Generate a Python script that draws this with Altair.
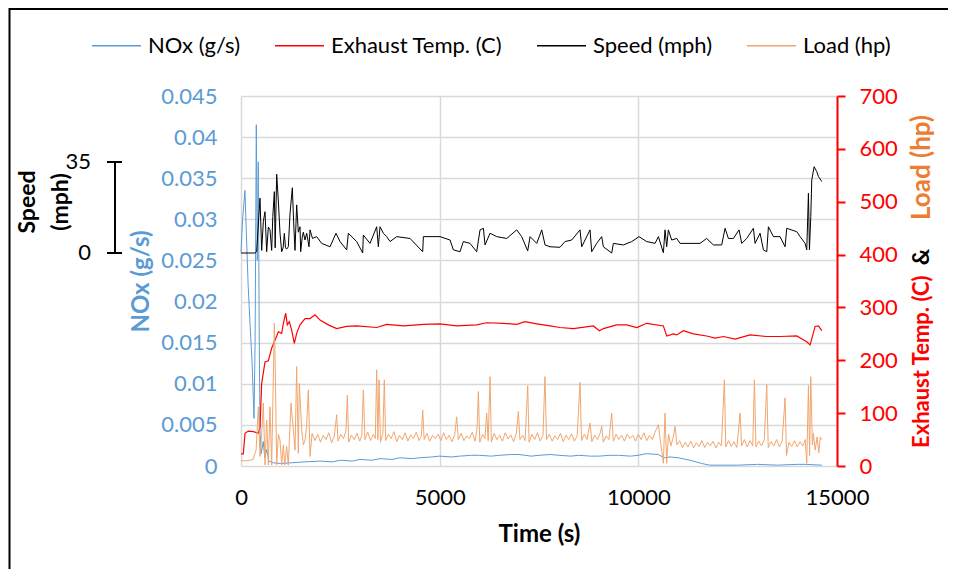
import altair as alt
import pandas as pd

# ---------------- data ----------------
series_names = ["NOx (g/s)", "Exhaust Temp. (C)", "Speed (mph)", "Load (hp)"]

nox_t = [0, 40, 100, 130, 180, 230, 280, 327, 355, 385,
         410, 435, 460, 480, 510, 560, 600, 650, 700, 800,
         1000, 1300, 1600, 2000, 2300, 2500, 2800, 3000, 3300, 3500,
         3800, 4000, 4300, 4500, 4800, 5000, 5300, 5500, 5800, 6000,
         6300, 6500, 6800, 7000, 7300, 7500, 7800, 8000, 8300, 8500,
         8800, 9000, 9300, 9500, 9800, 10000, 10200, 10500, 10650, 10800,
         11000, 11300, 11600, 11800, 12500, 13000, 13500, 14000, 14200, 14617]
nox_v = [0.026, 0.030, 0.0335, 0.029, 0.022, 0.017, 0.0125, 0.0058, 0.015, 0.0415,
         0.025, 0.037, 0.015, 0.004, 0.0015, 0.003, 0.001, 0.002, 0.0006, 0.0004,
         0.0003, 0.0004, 0.0005, 0.0006, 0.0005, 0.0007, 0.0006, 0.0008, 0.0007, 0.0009,
         0.0008, 0.0010, 0.0009, 0.0010, 0.0011, 0.0012, 0.0011, 0.0012, 0.0013, 0.0013,
         0.0012, 0.0013, 0.0014, 0.0014, 0.0012, 0.0013, 0.0014, 0.0013, 0.0012, 0.0013,
         0.0012, 0.0012, 0.0013, 0.0013, 0.0012, 0.0013, 0.0015, 0.0014, 0.0010, 0.0011,
         0.0010, 0.0007, 0.0003, 0.0001, 0.0001, 0.0002, 0.0001, 0.0002, 0.0002, 0.0001]

temp_t = [0, 58, 101, 185, 310, 436, 478, 520, 604, 688,
          772, 856, 940, 1024, 1066, 1125, 1166, 1217, 1275, 1342,
          1401, 1485, 1611, 1737, 1863, 1989, 2198, 2408, 2660, 2911,
          3415, 3667, 4087, 4590, 5009, 5429, 5932, 6184, 6604, 6939,
          7149, 7443, 7778, 8029, 8365, 8868, 9019, 9120, 9456, 9708,
          9960, 10211, 10630, 10714, 10882, 10966, 11133, 11385, 11721, 11931,
          12141, 12435, 12812, 13232, 13567, 13987, 14239, 14323, 14449, 14533,
          14617]
temp_v = [23, 23, 62, 66, 65, 62, 74, 156, 197, 199,
          223, 238, 254, 251, 270, 289, 267, 273, 257, 232,
          251, 267, 279, 279, 286, 276, 267, 260, 264, 265,
          262, 268, 265, 268, 269, 265, 267, 271, 270, 268,
          273, 269, 265, 262, 260, 265, 256, 260, 267, 267,
          262, 270, 265, 246, 250, 248, 256, 250, 246, 242,
          245, 240, 248, 245, 245, 246, 235, 229, 264, 265,
          256]

speed_t = [0, 352, 394, 478, 520, 562, 604, 646, 688, 730,
           772, 800, 839, 860, 898, 940, 982, 1024, 1060, 1091,
           1120, 1149, 1191, 1233, 1292, 1330, 1359, 1401, 1443, 1485,
           1502, 1540, 1569, 1610, 1653, 1712, 1737, 1800, 1905, 2030,
           2240, 2391, 2492, 2660, 2702, 2911, 3063, 3079, 3247, 3415,
           3457, 3499, 3583, 3667, 3751, 3918, 4254, 4573, 4590, 5009,
           5261, 5345, 5512, 5596, 5764, 5932, 6016, 6100, 6142, 6268,
           6436, 6688, 6939, 7065, 7216, 7275, 7443, 7569, 7652, 7777,
           8029, 8155, 8323, 8533, 8575, 8784, 8826, 8952, 9078, 9120,
           9330, 9372, 9624, 9834, 10018, 10211, 10421, 10505, 10630, 10672,
           10714, 10756, 10840, 10966, 11050, 11301, 11553, 11721, 11889, 12099,
           12183, 12267, 12393, 12535, 12602, 12728, 12896, 12938, 13064, 13148,
           13232, 13274, 13400, 13567, 13693, 13735, 13987, 14071, 14197, 14239,
           14281, 14306, 14340, 14365, 14424, 14491, 14533, 14617]
speed_v = [0, 0, 0.5, 21.1, 1, 12.1, 15.9, 0.5, 10, 8.9,
           1, 14, 23.6, 2, 30.3, 20, 7.6, 0.5, 2, 7.6,
           2, 1.5, 2.4, 15, 25.1, 10, 1, 18.5, 8, 10.1,
           0.5, 6, 8.0, 5, 7.6, 2.4, 8.9, 5.6, 6.3, 3.7,
           2.4, 7.6, 4.4, 1.2, 7.6, 4.4, 0, 6.9, 3.7, 10.1,
           2.4, 10.1, 7.6, 6.3, 4.4, 6.3, 5.6, 0.5, 6.3, 6.3,
           5.0, 1.2, 0.5, 4.4, 3.7, 0.5, 8.9, 9.5, 3.1, 7.6,
           6.3, 5.6, 8.9, 6.3, 0.8, 6.3, 3.7, 8.9, 3.1, 2.4,
           2.2, 4.4, 5.0, 8.9, 2.4, 8.9, 0.5, 3.7, 6.3, 2.4,
           0, 3.7, 3.1, 4.4, 6.3, 4.4, 3.7, 6.3, 0.1, 8.9,
           2.4, 8.9, 5.0, 5.6, 3.7, 3.7, 3.7, 5.6, 3.1, 3.1,
           9.5, 5.6, 5.6, 8.9, 3.7, 5.6, 9.5, 3.7, 7.6, 1.2,
           0.5, 10.1, 6.3, 6.3, 2.4, 9.5, 8.2, 6.3, 3.7, 1.2,
           23.0, 1.2, 14.0, 28.1, 33.2, 31.3, 29.4, 27.5]

load_t = [0, 150, 300, 380, 436, 478, 520, 562, 604, 646,
          688, 730, 772, 839, 856, 898, 940, 982, 1024, 1066,
          1100, 1149, 1191, 1258, 1317, 1360, 1401, 1443, 1468, 1527,
          1570, 1611, 1650, 1695, 1737, 1790,
          1860, 1930, 2000, 2070, 2140, 2210, 2280, 2350, 2408, 2440,
          2510, 2580, 2640, 2677, 2710, 2780, 2850, 2920, 2990, 3040,
          3079, 3120, 3190, 3260, 3330, 3380, 3415, 3445, 3474, 3510,
          3570, 3608, 3640, 3710, 3780, 3850, 3920, 3990, 4060, 4130,
          4200, 4270, 4340, 4410, 4480, 4540, 4573, 4610, 4680, 4750,
          4820, 4890, 4960, 5030, 5100, 5170, 5240, 5310, 5380, 5429,
          5470, 5540, 5610, 5680, 5750, 5820, 5890, 5940, 5974, 6010,
          6080, 6140, 6184, 6220, 6268, 6300, 6370, 6440, 6510, 6580,
          6650, 6720, 6790, 6860, 6930, 6981, 7020, 7090, 7150, 7216,
          7250, 7320, 7390, 7460, 7530, 7600, 7650, 7690, 7760, 7830,
          7900, 7970, 8040, 8110, 8180, 8250, 8320, 8390, 8460, 8533,
          8570, 8640, 8710, 8784, 8830, 8900, 8970, 9040, 9078, 9120,
          9190, 9260, 9330, 9370, 9440, 9510, 9580, 9650, 9720, 9790,
          9860, 9930, 10000, 10070, 10140, 10210, 10280, 10350, 10420, 10505,
          10560, 10630, 10672, 10714, 10760, 10820, 10880, 10924, 10970, 11040,
          11110, 11180, 11250, 11320, 11390, 11460, 11530, 11600, 11670, 11740,
          11810, 11880, 11950, 12020, 12090, 12166, 12200, 12270, 12340, 12410,
          12480, 12560, 12600, 12670, 12740, 12810, 12880, 12921, 12960, 13030,
          13100, 13170, 13232, 13270, 13340, 13410, 13480, 13550, 13620, 13693,
          13730, 13790, 13860, 13930, 14000, 14070, 14140, 14200, 14239, 14281,
          14310, 14340, 14380, 14407, 14450, 14500, 14540, 14580, 14617]
load_v = [10, 10, 12, 30, 112, 18, 60, 119, 2, 87,
          2, 112, 2, 270, 213, 2, 60, 49, 2, 40,
          2, 37, 2, 119, 68, 30, 188, 24, 156, 68,
          40, 49, 75, 144, 18, 62,
          48, 60, 45, 58, 50, 63, 44, 57, 97, 47,
          60, 52, 66, 134, 45, 58, 50, 62, 47, 58,
          144, 50, 64, 48, 60, 52, 182, 50, 163, 45,
          62, 163, 48, 60, 52, 65, 46, 58, 50, 63,
          47, 59, 52, 64, 48, 57, 106, 50, 62, 47,
          58, 52, 60, 48, 63, 50, 58, 46, 60, 93,
          50, 62, 48, 57, 52, 64, 47, 70, 141, 45,
          60, 52, 100, 48, 169, 45, 62, 50, 58, 47,
          63, 51, 59, 46, 62, 103, 50, 58, 48, 152,
          45, 60, 50, 63, 47, 58, 169, 50, 60, 47,
          57, 50, 62, 46, 58, 50, 61, 47, 57, 158,
          48, 60, 50, 81, 46, 58, 50, 62, 75, 45,
          57, 50, 100, 47, 60, 50, 58, 47, 60, 52,
          58, 47, 60, 50, 63, 48, 58, 50, 64, 78,
          45, 5, 100, 5, 60, 38, 55, 75, 40, 48,
          35, 45, 36, 47, 34, 44, 37, 48, 35, 45,
          38, 47, 34, 45, 38, 163, 36, 48, 37, 46,
          35, 100, 38, 50, 36, 48, 38, 163, 36, 47,
          38, 50, 154, 35, 46, 38, 50, 36, 47, 129,
          20, 45, 37, 48, 36, 46, 38, 50, 5, 152,
          20, 169, 40, 62, 30, 55, 25, 55, 50]

nox_ticks = [0, 0.005, 0.01, 0.015, 0.02, 0.025, 0.03, 0.035, 0.04, 0.045]
temp_ticks = [0, 100, 200, 300, 400, 500, 600, 700]
time_ticks = [0, 5000, 10000, 15000]
speed_ticks = [0, 35]

# ---------------- style ----------------
FONT = "Lato"
FS = 22          # tick labels / legend
TFS = 24         # axis titles
BLUE = "#5B9BD5"
RED = "#FF0000"
BLACK = "#000000"
ORANGE = "#F2A66F"
ORANGE_TXT = "#ED7D31"
GRID = "#D9D9D9"
series_colors = [BLUE, RED, BLACK, ORANGE]

W, H = 596, 370
PAD = {"left": 233, "top": 88, "right": 111, "bottom": 103}

x_scale = alt.Scale(domain=[0, 15000], nice=False, zero=False)
x_axis = alt.Axis(values=time_ticks, format="d", title="Time (s)", grid=True,
                  gridColor=GRID, gridWidth=1.5, domain=False, ticks=False, tickSize=0,
                  labelFont=FONT, labelFontSize=FS, labelColor=BLACK, labelPadding=21,
                  labelFlush=False, titleFont=FONT, titleFontSize=TFS,
                  titleFontWeight="bold", titleColor=BLACK, titlePadding=14)

speed_scale = alt.Scale(domain=[-81.94, 60.4], nice=False, zero=False)
temp_scale = alt.Scale(domain=[0, 700], nice=False, zero=False)

color = alt.Color("series:N",
                  scale=alt.Scale(domain=series_names, range=series_colors),
                  legend=alt.Legend(orient="none", legendX=-150, legendY=-76,
                                    direction="horizontal", title=None,
                                    symbolType="stroke", symbolSize=2401,
                                    symbolStrokeWidth=1.5, labelFont=FONT,
                                    labelFontSize=FS, labelColor=BLACK,
                                    labelOffset=6, columnPadding=31,
                                    labelLimit=400))

nox_df = pd.DataFrame({"t": nox_t, "v": nox_v, "series": series_names[0]})
temp_df = pd.DataFrame({"t": temp_t, "v": temp_v, "series": series_names[1]})
speed_df = pd.DataFrame({"t": speed_t, "v": speed_v, "series": series_names[2]})
load_df = pd.DataFrame({"t": load_t, "v": load_v, "series": series_names[3]})

nox_line = alt.Chart(nox_df).mark_line(strokeWidth=1).encode(
    x=alt.X("t:Q", scale=x_scale, axis=x_axis),
    y=alt.Y("v:Q", scale=alt.Scale(domain=[0, 0.045], nice=False, zero=False),
            axis=alt.Axis(orient="left", values=nox_ticks, format=".3~f",
                          grid=True, gridColor=GRID, gridWidth=1.5,
                          domain=False, ticks=False, tickSize=0,
                          labelFont=FONT, labelFontSize=FS, labelColor=BLUE,
                          labelPadding=24, title="NOx (g/s)", titleColor=BLUE,
                          titleFont=FONT, titleFontSize=TFS, titleFontWeight="bold",
                          titleAngle=270, titleX=-100, titleY=185,
                          titleAlign="center", titleBaseline="middle")),
    color=color,
)

speed_line = alt.Chart(speed_df).mark_line(strokeWidth=1).encode(
    x=alt.X("t:Q", scale=x_scale, axis=x_axis),
    y=alt.Y("v:Q", scale=speed_scale, axis=None),
    color=color,
)

temp_line = alt.Chart(temp_df).mark_line(strokeWidth=1.2).encode(
    x=alt.X("t:Q", scale=x_scale, axis=x_axis),
    y=alt.Y("v:Q", scale=temp_scale,
            axis=alt.Axis(orient="right", values=temp_ticks, format="d",
                          grid=False, domain=True, domainColor=RED, domainWidth=2,
                          ticks=True, tickColor=RED, tickWidth=2, tickSize=8,
                          labelFont=FONT, labelFontSize=FS, labelColor=RED,
                          labelPadding=14, title=None)),
    color=color,
)

load_line = alt.Chart(load_df).mark_line(strokeWidth=1).encode(
    x=alt.X("t:Q", scale=x_scale, axis=x_axis),
    y=alt.Y("v:Q", scale=temp_scale, axis=None),
    color=color,
)

# ---- speed mini-axis on the far left (uses the speed scale) ----
sp_axis_df = pd.DataFrame({"lo": [speed_ticks[0]], "hi": [speed_ticks[1]]})
sp_tick_df = pd.DataFrame({"s": speed_ticks, "lab": [str(s) for s in speed_ticks]})

sp_axis_line = alt.Chart(sp_axis_df).mark_rule(color=BLACK, strokeWidth=2).encode(
    x=alt.value(-126),
    y=alt.Y("lo:Q", scale=speed_scale, axis=None),
    y2="hi:Q",
)
sp_ticks = alt.Chart(sp_tick_df).mark_rule(color=BLACK, strokeWidth=2).encode(
    x=alt.value(-134), x2=alt.value(-119),
    y=alt.Y("s:Q", scale=speed_scale, axis=None),
)
sp_labels = alt.Chart(sp_tick_df).mark_text(
    align="right", baseline="middle", font=FONT, fontSize=FS, color=BLACK
).encode(
    x=alt.value(-150),
    y=alt.Y("s:Q", scale=speed_scale, axis=None),
    text="lab:N",
)

one = pd.DataFrame({"k": [0]})


def label(txt, x, y, color_, size, align="center", angle=270):
    return alt.Chart(one).mark_text(
        text=txt, align=align, baseline="middle", angle=angle, font=FONT,
        fontSize=size, fontWeight="bold", color=color_
    ).encode(x=alt.value(x), y=alt.value(y))


sp_title1 = label("Speed", -213, 106, BLACK, 23)
sp_title2 = label("(mph)", -180, 106, BLACK, 23)

rt1 = label("Exhaust Temp. (C)", 681, 352, RED, 22, align="left")
rt2 = label("&", 681, 161, BLACK, 23)
rt3 = label("Load (hp)", 681, 19, ORANGE_TXT, 26, align="right")

frame_top = alt.Chart(one).mark_rule(color=BLACK, strokeWidth=2).encode(
    x=alt.value(-232), x2=alt.value(707), y=alt.value(-87))
frame_left = alt.Chart(one).mark_rule(color=BLACK, strokeWidth=2).encode(
    x=alt.value(-231.5), y=alt.value(-88), y2=alt.value(473))

chart = alt.layer(
    nox_line, speed_line, temp_line, load_line,
    sp_axis_line, sp_ticks, sp_labels, sp_title1, sp_title2,
    rt1, rt2, rt3, frame_top, frame_left,
).resolve_scale(
    y="independent", color="shared"
).properties(
    width=W, height=H,
    autosize=alt.AutoSizeParams(type="none"),
    padding=PAD,
    background="white",
).configure_view(stroke=None)

chart.save("out.html", embed_options={"renderer": "svg", "actions": False})
